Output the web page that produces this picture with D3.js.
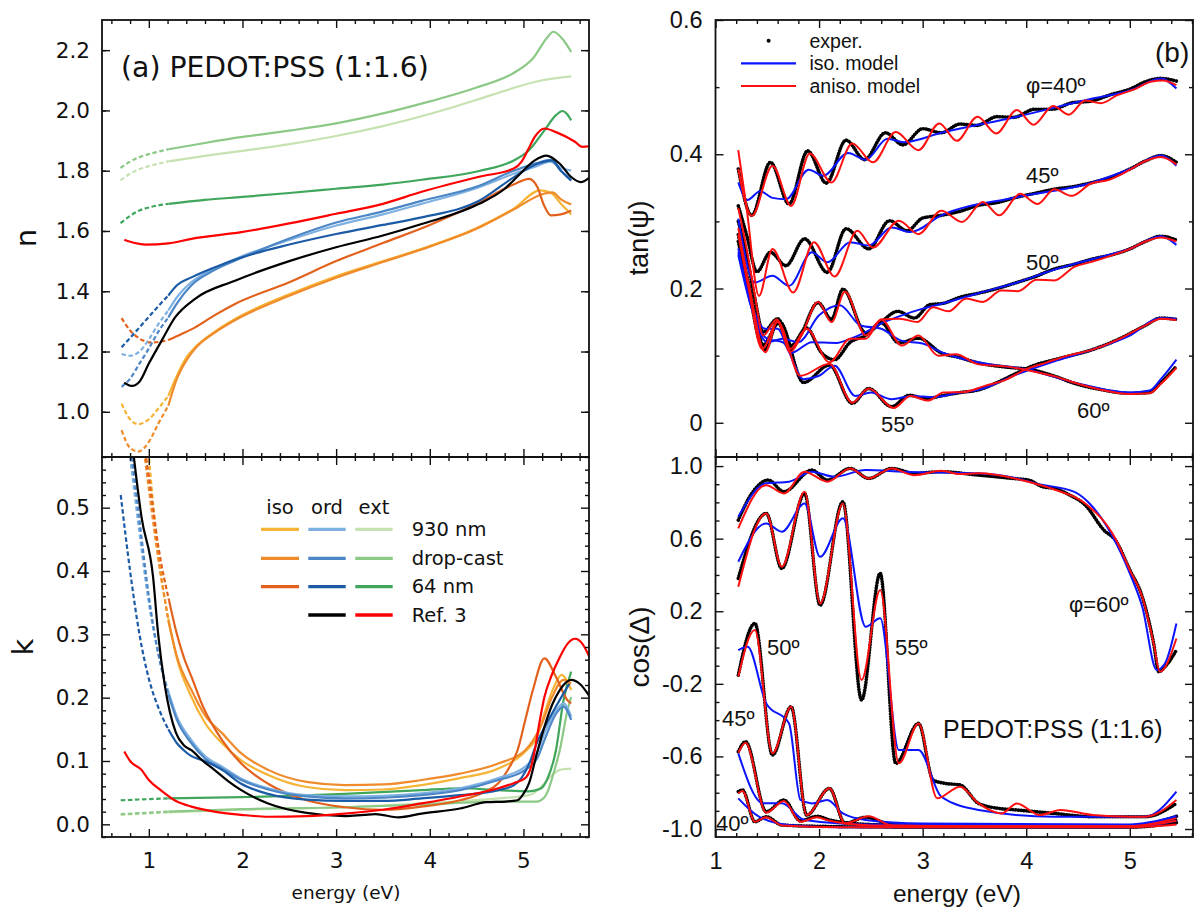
<!DOCTYPE html>
<html><head><meta charset="utf-8">
<script src="https://cdn.jsdelivr.net/npm/d3@7"></script>
<style>
body{margin:0;background:#fff;}
svg{display:block;}
</style></head><body>
<script>
// ---------- (a) refractive index n: [energy eV, n] ----------
// "Lo" arrays are the low-energy extrapolations drawn dashed
const nIso930Lo = [[0.709,1.027],[0.8,0.975],[0.887,0.959],[1.0,0.975],[1.1,1.01],[1.208,1.053]];
const nIso930 = [[1.208,1.053],[1.3,1.12],[1.4,1.18],[1.494,1.214],[1.7,1.265],[1.92,1.308],[2.5,1.39],[3.0,1.45],[3.5,1.50],[4.0,1.55],[4.5,1.61],[4.9,1.675],[5.18,1.735],[5.3,1.725],[5.4,1.69],[5.51,1.655]];
const nIsoDropLo = [[0.709,0.939],[0.8,0.88],[0.887,0.868],[1.0,0.90],[1.1,0.96],[1.208,1.02]];
const nIsoDrop = [[1.208,1.02],[1.3,1.11],[1.4,1.17],[1.494,1.21],[1.7,1.262],[1.92,1.304],[2.5,1.385],[3.0,1.445],[3.5,1.497],[4.0,1.548],[4.5,1.607],[4.9,1.672],[5.2,1.722],[5.31,1.728],[5.4,1.705],[5.51,1.688]];
const nIso64Lo = [[0.709,1.311],[0.8,1.27],[0.9,1.243],[1.03,1.23],[1.208,1.238]];
const nIso64 = [[1.208,1.238],[1.35,1.258],[1.494,1.28],[1.7,1.32],[1.92,1.358],[2.5,1.43],[3.0,1.50],[3.5,1.56],[4.0,1.62],[4.5,1.69],[4.9,1.755],[5.06,1.773],[5.15,1.745],[5.22,1.685],[5.29,1.652],[5.4,1.655],[5.51,1.668]];
const nOrd930Lo = [[0.709,1.192],[0.8,1.186],[0.9,1.20],[1.0,1.24],[1.1,1.29],[1.208,1.336]];
const nOrd930 = [[1.208,1.336],[1.3,1.38],[1.455,1.43],[1.7,1.475],[1.987,1.515],[2.5,1.57],[3.0,1.618],[3.5,1.655],[3.913,1.69],[4.527,1.745],[4.896,1.79],[5.142,1.815],[5.285,1.83],[5.4,1.81],[5.51,1.80]];
const nOrdDropLo = [[0.709,1.083],[0.8,1.11],[0.9,1.16],[1.0,1.21],[1.1,1.265],[1.208,1.313]];
const nOrdDrop = [[1.208,1.313],[1.3,1.36],[1.455,1.42],[1.7,1.47],[1.987,1.51],[2.5,1.575],[3.0,1.628],[3.5,1.665],[3.913,1.70],[4.527,1.75],[4.896,1.80],[5.142,1.825],[5.285,1.836],[5.4,1.80],[5.51,1.77]];
const nOrd64Lo = [[0.709,1.214],[0.8,1.245],[0.9,1.28],[1.0,1.315],[1.1,1.35],[1.208,1.386]];
const nOrd64 = [[1.208,1.386],[1.3,1.42],[1.455,1.446],[1.7,1.479],[1.987,1.512],[2.5,1.555],[3.0,1.59],[3.5,1.62],[3.913,1.645],[4.527,1.70],[4.896,1.778],[5.142,1.822],[5.306,1.834],[5.4,1.80],[5.51,1.767]];
const nExt930Lo = [[0.697,1.768],[0.8,1.79],[0.9,1.805],[1.0,1.815],[1.1,1.823],[1.209,1.831]];
const nExt930 = [[1.209,1.831],[1.6,1.849],[2.0,1.866],[2.5,1.888],[3.0,1.915],[3.5,1.948],[4.0,1.988],[4.5,2.035],[4.9,2.075],[5.2,2.1],[5.51,2.113]];
const nExtDropLo = [[0.697,1.809],[0.8,1.83],[0.9,1.845],[1.0,1.855],[1.1,1.863],[1.209,1.871]];
const nExtDrop = [[1.209,1.871],[1.6,1.892],[2.0,1.912],[2.5,1.933],[3.0,1.957],[3.5,1.99],[4.0,2.03],[4.5,2.076],[4.9,2.125],[5.1,2.172],[5.25,2.24],[5.318,2.261],[5.428,2.233],[5.51,2.194]];
const nExt64Lo = [[0.697,1.626],[0.8,1.65],[0.9,1.668],[1.0,1.678],[1.1,1.685],[1.209,1.69]];
const nExt64 = [[1.209,1.69],[1.6,1.703],[2.0,1.713],[2.5,1.726],[3.0,1.74],[3.5,1.754],[3.913,1.77],[4.527,1.799],[4.896,1.834],[5.06,1.868],[5.224,1.934],[5.35,1.985],[5.417,1.998],[5.46,1.99],[5.51,1.967]];
const nRefOrd = [[0.737,1.097],[0.816,1.086],[0.9,1.10],[1.0,1.16],[1.137,1.236],[1.28,1.313],[1.494,1.375],[1.92,1.435],[2.5,1.50],[3.0,1.546],[3.5,1.585],[3.913,1.623],[4.527,1.69],[4.8,1.74],[4.95,1.785],[5.121,1.834],[5.244,1.85],[5.388,1.823],[5.51,1.779],[5.613,1.762],[5.711,1.779]];
const nRefExt = [[0.738,1.571],[0.85,1.56],[0.963,1.555],[1.209,1.559],[1.455,1.574],[1.987,1.596],[2.5,1.625],[3.0,1.657],[3.5,1.69],[3.913,1.73],[4.527,1.78],[4.896,1.807],[4.98,1.83],[5.05,1.87],[5.121,1.912],[5.224,1.94],[5.347,1.928],[5.55,1.896],[5.63,1.879],[5.711,1.881]];

// ---------- (a) extinction coefficient k: [energy eV, k] ----------
const kIso930Lo = [[0.99,0.60],[1.05,0.50],[1.1,0.43],[1.15,0.375],[1.208,0.325]];
const kIso930 = [[1.208,0.325],[1.3,0.262],[1.455,0.201],[1.6,0.160],[1.782,0.128],[1.987,0.101],[2.274,0.078],[2.684,0.059],[3.093,0.054],[3.503,0.055],[3.913,0.062],[4.322,0.073],[4.732,0.088],[5.019,0.115],[5.15,0.14],[5.224,0.175],[5.32,0.215],[5.408,0.236],[5.46,0.228],[5.51,0.212]];
const kIsoDropLo = [[0.94,0.60],[1.0,0.53],[1.1,0.42],[1.208,0.322]];
const kIsoDrop = [[1.208,0.322],[1.3,0.265],[1.455,0.212],[1.6,0.172],[1.782,0.144],[1.987,0.112],[2.274,0.086],[2.684,0.067],[3.093,0.062],[3.503,0.063],[3.913,0.07],[4.322,0.080],[4.732,0.096],[5.019,0.117],[5.183,0.154],[5.306,0.201],[5.428,0.228],[5.51,0.222]];
const kIso64Lo = [[0.95,0.60],[1.0,0.55],[1.1,0.44],[1.215,0.354]];
const kIso64 = [[1.215,0.354],[1.3,0.30],[1.373,0.264],[1.458,0.232],[1.578,0.186],[1.782,0.133],[1.987,0.096],[2.274,0.064],[2.684,0.038],[3.093,0.027],[3.503,0.023],[3.913,0.028],[4.322,0.038],[4.6,0.052],[4.732,0.065],[4.85,0.09],[4.937,0.117],[5.02,0.165],[5.101,0.212],[5.224,0.262],[5.347,0.233],[5.47,0.196],[5.51,0.191]];
const kOrd930Lo = [[0.80,0.58],[0.9,0.46],[1.0,0.35],[1.1,0.27],[1.208,0.21]];
const kOrd930 = [[1.208,0.21],[1.3,0.17],[1.455,0.133],[1.6,0.108],[1.782,0.091],[1.987,0.072],[2.274,0.057],[2.684,0.046],[3.093,0.044],[3.503,0.045],[3.913,0.049],[4.322,0.057],[4.732,0.073],[5.019,0.091],[5.15,0.115],[5.224,0.144],[5.35,0.18],[5.428,0.191],[5.51,0.170]];
const kOrdDropLo = [[0.82,0.58],[0.9,0.48],[1.0,0.36],[1.1,0.27],[1.208,0.205]];
const kOrdDrop = [[1.208,0.205],[1.3,0.165],[1.455,0.128],[1.6,0.104],[1.782,0.088],[1.987,0.07],[2.274,0.055],[2.684,0.044],[3.093,0.041],[3.503,0.042],[3.913,0.046],[4.322,0.054],[4.732,0.07],[5.019,0.086],[5.15,0.105],[5.224,0.133],[5.35,0.175],[5.428,0.186],[5.51,0.165]];
const kOrd64Lo = [[0.70,0.52],[0.8,0.40],[0.9,0.30],[1.0,0.23],[1.1,0.185],[1.208,0.15]];
const kOrd64 = [[1.208,0.15],[1.3,0.128],[1.373,0.117],[1.45,0.108],[1.578,0.101],[1.782,0.086],[1.987,0.064],[2.274,0.048],[2.684,0.039],[3.093,0.037],[3.503,0.037],[3.913,0.041],[4.322,0.046],[4.732,0.054],[4.9,0.062],[4.978,0.073],[5.06,0.095],[5.142,0.128],[5.25,0.16],[5.347,0.186],[5.49,0.222]];
const kExt930Lo = [[0.7,0.015],[1.208,0.019]];
const kExt930 = [[1.208,0.019],[1.987,0.023],[3.093,0.027],[3.913,0.033],[4.732,0.041],[5.06,0.046],[5.16,0.055],[5.224,0.065],[5.3,0.077],[5.388,0.086],[5.51,0.088]];
const kExtDropLo = [[0.7,0.016],[1.208,0.020]];
const kExtDrop = [[1.208,0.020],[1.987,0.024],[3.093,0.027],[3.913,0.031],[4.732,0.036],[5.142,0.036],[5.22,0.042],[5.265,0.054],[5.33,0.085],[5.388,0.117],[5.47,0.180],[5.51,0.201]];
const kExt64Lo = [[0.7,0.038],[1.208,0.041]];
const kExt64 = [[1.208,0.041],[1.987,0.043],[3.093,0.048],[3.913,0.054],[4.322,0.057],[4.732,0.054],[5.06,0.052],[5.18,0.056],[5.25,0.07],[5.347,0.117],[5.428,0.196],[5.51,0.241]];
const kRefOrd = [[0.84,0.58],[0.922,0.485],[1.045,0.391],[1.1,0.30],[1.168,0.222],[1.291,0.144],[1.373,0.125],[1.455,0.117],[1.578,0.10],[1.7,0.086],[1.85,0.068],[1.987,0.054],[2.274,0.033],[2.684,0.018],[3.093,0.013],[3.3,0.015],[3.421,0.016],[3.667,0.011],[3.913,0.017],[4.322,0.025],[4.609,0.035],[4.814,0.036],[4.937,0.038],[5.0,0.048],[5.06,0.065],[5.14,0.11],[5.224,0.154],[5.31,0.19],[5.388,0.212],[5.51,0.228],[5.6,0.222],[5.711,0.201]];
const kRefExt = [[0.738,0.115],[0.8,0.10],[0.922,0.086],[1.0,0.07],[1.127,0.054],[1.3,0.036],[1.455,0.028],[1.7,0.02],[1.987,0.015],[2.274,0.012],[2.684,0.013],[3.093,0.017],[3.503,0.023],[3.913,0.033],[4.322,0.044],[4.732,0.057],[4.896,0.065],[5.019,0.073],[5.08,0.09],[5.121,0.117],[5.17,0.16],[5.224,0.201],[5.3,0.235],[5.388,0.264],[5.47,0.285],[5.55,0.293],[5.63,0.285],[5.711,0.262]];

// ---------- (b) tan(psi): [energy eV, tan psi] per angle of incidence ----------
const tanExp40 = [[1.22,0.378],[1.35,0.309],[1.53,0.388],[1.71,0.326],[1.89,0.405],[2.07,0.357],[2.26,0.421],[2.44,0.392],[2.64,0.432],[2.81,0.414],[3.0,0.438],[3.18,0.432],[3.36,0.445],[3.52,0.443],[3.72,0.456],[3.88,0.455],[4.08,0.467],[4.25,0.467],[4.45,0.477],[4.62,0.479],[4.82,0.489],[5.0,0.497],[5.15,0.508],[5.3,0.513],[5.45,0.509]];
const tanAniso40 = [[1.22,0.378],[1.35,0.308],[1.55,0.383],[1.73,0.323],[1.91,0.401],[2.12,0.358],[2.32,0.416],[2.52,0.388],[2.74,0.433],[2.96,0.406],[3.16,0.446],[3.33,0.420],[3.53,0.456],[3.71,0.431],[3.91,0.466],[4.07,0.444],[4.26,0.472],[4.41,0.459],[4.57,0.480],[4.72,0.476],[4.88,0.488],[5.05,0.497],[5.2,0.508],[5.32,0.51],[5.45,0.503]];
const tanIso40 = [[1.22,0.358],[1.31,0.332],[1.43,0.345],[1.55,0.335],[1.68,0.333],[1.9,0.377],[2.04,0.368],[2.28,0.402],[2.45,0.392],[2.66,0.423],[2.82,0.418],[3.18,0.432],[3.91,0.456],[4.64,0.483],[5.0,0.495],[5.3,0.513],[5.45,0.498]];
const tanExp45 = [[1.22,0.323],[1.3,0.28],[1.4,0.225],[1.53,0.254],[1.68,0.234],[1.86,0.274],[2.08,0.224],[2.26,0.289],[2.48,0.259],[2.68,0.301],[2.85,0.286],[3.0,0.305],[3.18,0.309],[3.36,0.315],[3.54,0.324],[3.72,0.328],[3.91,0.336],[4.09,0.342],[4.27,0.348],[4.46,0.352],[4.64,0.358],[4.82,0.366],[5.0,0.378],[5.15,0.39],[5.3,0.398],[5.45,0.388]];
const tanAniso45 = [[1.22,0.406],[1.3,0.32],[1.42,0.189],[1.55,0.259],[1.75,0.194],[1.95,0.269],[2.15,0.218],[2.37,0.286],[2.52,0.261],[2.77,0.301],[2.96,0.281],[3.18,0.316],[3.38,0.299],[3.58,0.329],[3.74,0.309],[3.94,0.341],[4.11,0.326],[4.27,0.348],[4.44,0.338],[4.62,0.356],[4.8,0.362],[5.0,0.377],[5.15,0.39],[5.3,0.396],[5.45,0.385]];
const tanIso45 = [[1.22,0.304],[1.38,0.209],[1.55,0.219],[1.71,0.204],[1.93,0.254],[2.08,0.239],[2.3,0.269],[2.48,0.264],[2.7,0.291],[2.88,0.284],[3.18,0.309],[3.91,0.336],[4.64,0.358],[5.0,0.378],[5.3,0.398],[5.45,0.383]];
const tanExp50 = [[1.22,0.30],[1.3,0.25],[1.38,0.185],[1.46,0.135],[1.6,0.155],[1.73,0.115],[1.88,0.141],[2.02,0.105],[2.15,0.094],[2.3,0.12],[2.45,0.13],[2.6,0.15],[2.76,0.166],[2.92,0.156],[3.07,0.176],[3.2,0.178],[3.36,0.187],[3.54,0.193],[3.72,0.20],[3.91,0.209],[4.09,0.218],[4.27,0.229],[4.46,0.236],[4.64,0.244],[4.82,0.25],[5.0,0.259],[5.15,0.27],[5.3,0.278],[5.45,0.272]];
const tanAniso50 = [[1.22,0.32],[1.3,0.26],[1.38,0.19],[1.46,0.13],[1.59,0.154],[1.72,0.11],[1.88,0.14],[2.1,0.09],[2.3,0.125],[2.45,0.125],[2.6,0.154],[2.78,0.155],[2.95,0.15],[3.1,0.172],[3.25,0.166],[3.42,0.185],[3.58,0.18],[3.76,0.197],[3.92,0.196],[4.1,0.213],[4.27,0.212],[4.46,0.232],[4.64,0.24],[4.82,0.249],[5.0,0.259],[5.15,0.27],[5.3,0.276],[5.45,0.27]];
const tanIso50 = [[1.22,0.254],[1.35,0.175],[1.48,0.14],[1.6,0.14],[1.73,0.104],[1.93,0.12],[2.17,0.119],[2.3,0.125],[2.45,0.135],[2.6,0.148],[2.8,0.16],[3.0,0.17],[3.2,0.178],[3.54,0.193],[3.91,0.209],[4.27,0.228],[4.64,0.244],[5.0,0.259],[5.3,0.278],[5.45,0.265]];
const tanExp55 = [[1.22,0.27],[1.32,0.2],[1.45,0.115],[1.62,0.15],[1.85,0.06],[2.1,0.086],[2.32,0.029],[2.48,0.051],[2.7,0.024],[2.87,0.041],[3.03,0.036],[3.18,0.040],[3.36,0.045],[3.54,0.049],[3.72,0.06],[3.91,0.074],[4.05,0.084],[4.3,0.095],[4.64,0.109],[4.9,0.125],[5.15,0.145],[5.3,0.156],[5.45,0.154]];
const tanAniso55 = [[1.22,0.28],[1.32,0.2],[1.45,0.11],[1.6,0.15],[1.82,0.07],[2.1,0.088],[2.32,0.03],[2.48,0.051],[2.72,0.022],[2.88,0.04],[3.05,0.033],[3.2,0.045],[3.4,0.046],[3.6,0.055],[3.8,0.064],[4.0,0.08],[4.2,0.09],[4.4,0.1],[4.64,0.109],[4.9,0.125],[5.15,0.145],[5.3,0.155],[5.45,0.153]];
const tanIso55 = [[1.22,0.25],[1.35,0.17],[1.5,0.125],[1.65,0.12],[1.85,0.065],[2.0,0.07],[2.15,0.085],[2.35,0.04],[2.5,0.045],[2.7,0.035],[2.9,0.04],[3.1,0.038],[3.36,0.045],[3.54,0.049],[3.91,0.072],[4.3,0.093],[4.64,0.109],[5.0,0.13],[5.3,0.156],[5.45,0.155]];
const tanExp60 = [[1.22,0.28],[1.33,0.20],[1.48,0.109],[1.6,0.15],[1.72,0.11],[1.82,0.13],[1.99,0.179],[2.12,0.154],[2.23,0.199],[2.45,0.134],[2.6,0.149],[2.77,0.119],[2.96,0.126],[3.18,0.104],[3.36,0.097],[3.54,0.089],[3.8,0.083],[4.05,0.079],[4.3,0.068],[4.46,0.059],[4.7,0.05],[5.0,0.044],[5.19,0.045],[5.3,0.06],[5.45,0.084]];
const tanAniso60 = [[1.22,0.29],[1.33,0.20],[1.48,0.105],[1.6,0.152],[1.72,0.105],[1.83,0.13],[1.99,0.18],[2.12,0.15],[2.25,0.195],[2.45,0.13],[2.6,0.154],[2.8,0.115],[2.96,0.13],[3.15,0.10],[3.32,0.102],[3.54,0.087],[3.8,0.084],[4.05,0.077],[4.3,0.068],[4.46,0.06],[4.7,0.05],[5.0,0.043],[5.19,0.044],[5.3,0.058],[5.45,0.082]];
const tanIso60 = [[1.22,0.26],[1.35,0.17],[1.5,0.12],[1.65,0.125],[1.8,0.12],[2.0,0.16],[2.2,0.175],[2.4,0.145],[2.6,0.14],[2.8,0.122],[3.0,0.118],[3.2,0.104],[3.54,0.09],[4.05,0.078],[4.46,0.06],[5.0,0.045],[5.19,0.048],[5.3,0.065],[5.45,0.094]];

// ---------- (b) cos(Delta) ----------
const cosExp60 = [[1.22,0.702],[1.35,0.849],[1.51,0.923],[1.66,0.859],[1.93,0.978],[2.08,0.923],[2.3,0.987],[2.48,0.932],[2.7,0.987],[2.92,0.96],[3.18,0.969],[3.54,0.95],[3.87,0.932],[4.02,0.923],[4.16,0.886],[4.27,0.877],[4.42,0.84],[4.57,0.785],[4.75,0.647],[4.86,0.592],[5.0,0.427],[5.12,0.28],[5.23,0.023],[5.28,-0.133],[5.34,-0.106],[5.45,-0.014]];
const cosAniso60 = [[1.22,0.657],[1.49,0.895],[1.66,0.849],[1.86,0.969],[2.08,0.914],[2.3,0.987],[2.48,0.932],[2.7,0.987],[2.92,0.95],[3.18,0.974],[3.36,0.956],[3.54,0.96],[4.02,0.914],[4.27,0.871],[4.57,0.794],[4.86,0.601],[5.0,0.427],[5.12,0.28],[5.23,0.023],[5.29,-0.133],[5.45,0.05]];
const cosIso60 = [[1.22,0.721],[1.49,0.905],[1.71,0.914],[1.93,0.969],[2.15,0.941],[2.45,0.978],[2.81,0.969],[3.54,0.96],[3.91,0.932],[4.09,0.904],[4.46,0.859],[4.64,0.776],[5.0,0.409],[5.12,0.225],[5.26,-0.124],[5.34,-0.087],[5.45,0.133]];
const cosExp55 = [[1.22,0.381],[1.49,0.739],[1.64,0.436],[1.86,0.849],[2.01,0.234],[2.23,0.803],[2.41,-0.289],[2.59,0.409],[2.74,-0.638],[2.96,-0.418],[3.1,-0.73],[3.21,-0.748],[3.36,-0.757],[3.54,-0.859],[3.73,-0.886],[3.91,-0.895],[4.27,-0.914],[4.64,-0.932],[5.15,-0.932],[5.45,-0.859]];
const cosAniso55 = [[1.22,0.335],[1.49,0.739],[1.64,0.445],[1.86,0.859],[2.01,0.243],[2.23,0.794],[2.41,-0.179],[2.59,0.317],[2.77,-0.638],[2.96,-0.418],[3.14,-0.831],[3.36,-0.767],[3.54,-0.859],[3.76,-0.914],[3.91,-0.859],[4.13,-0.923],[4.33,-0.895],[4.64,-0.923],[5.0,-0.932],[5.15,-0.932],[5.45,-0.84]];
const cosIso55 = [[1.22,0.473],[1.49,0.684],[1.64,0.638],[1.86,0.794],[2.01,0.50],[2.23,0.712],[2.45,0.115],[2.59,0.161],[2.77,-0.565],[2.96,-0.565],[3.18,-0.822],[3.54,-0.895],[4.27,-0.932],[5.15,-0.932],[5.45,-0.794]];
const cosExp50 = [[1.22,-0.152],[1.38,0.133],[1.55,-0.592],[1.73,-0.326],[1.88,-0.923],[2.1,-0.776],[2.25,-0.969],[2.45,-0.935],[2.7,-0.975],[3.0,-0.98],[4.0,-0.985],[5.0,-0.985],[5.45,-0.93]];
const cosAniso50 = [[1.22,-0.16],[1.38,0.096],[1.55,-0.583],[1.73,-0.326],[1.88,-0.923],[2.1,-0.776],[2.25,-0.969],[2.48,-0.93],[2.7,-0.98],[3.5,-0.985],[5.0,-0.985],[5.45,-0.94]];
const cosIso50 = [[1.22,-0.014],[1.31,0.004],[1.49,-0.308],[1.71,-0.418],[1.82,-0.84],[1.93,-0.859],[2.08,-0.84],[2.23,-0.914],[2.45,-0.95],[3.0,-0.97],[5.0,-0.975],[5.45,-0.93]];
const cosExp45 = [[1.22,-0.574],[1.29,-0.519],[1.49,-0.905],[1.66,-0.84],[1.82,-0.955],[1.98,-0.93],[2.1,-0.95],[2.5,-0.975],[3.5,-0.985],[5.0,-0.985],[5.45,-0.95]];
const cosAniso45 = [[1.22,-0.58],[1.29,-0.525],[1.49,-0.91],[1.66,-0.845],[1.82,-0.96],[1.98,-0.935],[2.1,-0.955],[2.5,-0.98],[3.5,-0.985],[5.0,-0.985],[5.45,-0.955]];
const cosIso45 = [[1.22,-0.583],[1.46,-0.858],[1.64,-0.858],[1.86,-0.95],[2.5,-0.975],[5.0,-0.98],[5.45,-0.93]];
const cosExp40 = [[1.22,-0.794],[1.26,-0.785],[1.38,-0.96],[1.49,-0.932],[1.64,-0.978],[2.0,-0.985],[3.0,-0.99],[5.0,-0.99],[5.45,-0.965]];
const cosAniso40 = [[1.22,-0.804],[1.26,-0.79],[1.38,-0.96],[1.49,-0.935],[1.64,-0.98],[2.2,-0.99],[5.0,-0.99],[5.45,-0.975]];
const cosIso40 = [[1.22,-0.831],[1.42,-0.932],[1.71,-0.978],[2.2,-0.99],[5.0,-0.99],[5.45,-0.955]];

// ---------- tick values and labels ----------
const xMajor = [1, 2, 3, 4, 5];
const nMajor = [1.0, 1.2, 1.4, 1.6, 1.8, 2.0, 2.2];
const kMajor = [0.0, 0.1, 0.2, 0.3, 0.4, 0.5];
const tanMajor = [0, 0.2, 0.4, 0.6];
const cosMajor = [-1.0, -0.6, -0.2, 0.2, 0.6, 1.0];
const legendRows = ["930 nm", "drop-cast", "64 nm", "Ref. 3"];
const legendCols = ["iso", "ord", "ext"];

// ---------- colours ----------
const C = {
  iso930: "#f6b436", isoDrop: "#f08b2b", iso64: "#e2621d",
  ord930: "#7eb1e1", ordDrop: "#4c86c6", ord64: "#1b5ba6",
  ext930: "#c6e2b1", extDrop: "#8cc886", ext64: "#3fa65b",
  refOrd: "#000000", refExt: "#ff0000",
  iso: "#0a14ff", aniso: "#ff1010", exp: "#000000"
};

// ---------- layout ----------
const W = 1194, H = 908;
const svg = d3.select("body").append("svg").attr("width", W).attr("height", H)
  .attr("viewBox", `0 0 ${W} ${H}`);

const LX = [102, 589], RX = [715.5, 1193];
const TY = [20, 457], BY = [457, 837];

const xL = d3.scaleLinear().domain([0.5, 5.7]).range(LX);
const xR = d3.scaleLinear().domain([1, 5.61]).range(RX);
const yN = d3.scaleLinear().domain([0.85, 2.3]).range([TY[1], TY[0]]);
const yK = d3.scaleLinear().domain([-0.02, 0.58]).range([BY[1], BY[0]]);
const yT = d3.scaleLinear().domain([-0.051, 0.6]).range([TY[1], TY[0]]);
const yC = d3.scaleLinear().domain([-1.044, 1.05]).range([BY[1], BY[0]]);

const FONT_L = "'DejaVu Sans', sans-serif";
const FONT_R = "'Liberation Sans', Arial, sans-serif";

const defs = svg.append("defs");
function panel(id, xs, ys) {
  defs.append("clipPath").attr("id", id).append("rect")
    .attr("x", xs[0]).attr("y", ys[0]).attr("width", xs[1] - xs[0]).attr("height", ys[1] - ys[0]);
  return svg.append("g").attr("clip-path", `url(#${id})`);
}

const range = (a, b, s) => d3.range(Math.round(a / s), Math.round(b / s) + 1).map(i => +(i * s).toFixed(4));
const notIn = (arr) => v => !arr.some(m => Math.abs(m - v) < 1e-6);

function axes(x, y, xs, ys, o) {
  const g = svg.append("g");
  const style = sel => {
    sel.select(".domain").remove();
    sel.selectAll("line").attr("stroke", "#111").attr("stroke-width", 1.4);
    sel.selectAll("text").attr("fill", "#111").style("font-family", o.font).style("font-size", o.fs + "px");
  };
  // bottom
  g.append("g").attr("transform", `translate(0,${ys[1]})`)
    .call(d3.axisBottom(x).tickValues(xMajor).tickSize(-8).tickPadding(o.xPad)
      .tickFormat(o.xLabels ? d3.format("d") : "")).call(style);
  g.append("g").attr("transform", `translate(0,${ys[1]})`)
    .call(d3.axisBottom(x).tickValues(o.xMinor).tickSize(-4).tickFormat("")).call(style);
  // top
  g.append("g").attr("transform", `translate(0,${ys[0]})`)
    .call(d3.axisTop(x).tickValues(xMajor).tickSize(-8).tickFormat("")).call(style);
  g.append("g").attr("transform", `translate(0,${ys[0]})`)
    .call(d3.axisTop(x).tickValues(o.xMinor).tickSize(-4).tickFormat("")).call(style);
  // left
  g.append("g").attr("transform", `translate(${xs[0]},0)`)
    .call(d3.axisLeft(y).tickValues(o.yMajor).tickSize(-8).tickPadding(o.yPad).tickFormat(o.yFmt)).call(style);
  g.append("g").attr("transform", `translate(${xs[0]},0)`)
    .call(d3.axisLeft(y).tickValues(o.yMinor).tickSize(-4).tickFormat("")).call(style);
  // right
  g.append("g").attr("transform", `translate(${xs[1]},0)`)
    .call(d3.axisRight(y).tickValues(o.yMajor).tickSize(-8).tickFormat("")).call(style);
  g.append("g").attr("transform", `translate(${xs[1]},0)`)
    .call(d3.axisRight(y).tickValues(o.yMinor).tickSize(-4).tickFormat("")).call(style);
  // frame
  g.append("rect").attr("x", xs[0]).attr("y", ys[0]).attr("width", xs[1] - xs[0]).attr("height", ys[1] - ys[0])
    .attr("fill", "none").attr("stroke", "#111").attr("stroke-width", 1.8);
}

function curve(g, data, x, y, color, opt = {}) {
  const line = d3.line().x(d => x(d[0])).y(d => y(d[1])).curve(d3.curveMonotoneX);
  const p = g.append("path").datum(data).attr("d", line).attr("fill", "none")
    .attr("stroke", color).attr("stroke-width", opt.w || 2.2).attr("stroke-linejoin", "round");
  if (opt.dash) p.attr("stroke-dasharray", opt.dash);
  if (opt.cap) p.attr("stroke-linecap", opt.cap);
  return p;
}

const DASH = "4.5 2.6";

// ---------- panel (a) n ----------
const gN = panel("clipN", LX, TY);
[[nIso930Lo, nIso930, C.iso930], [nIsoDropLo, nIsoDrop, C.isoDrop], [nIso64Lo, nIso64, C.iso64],
 [nOrd930Lo, nOrd930, C.ord930], [nOrdDropLo, nOrdDrop, C.ordDrop], [nOrd64Lo, nOrd64, C.ord64],
 [nExt930Lo, nExt930, C.ext930], [nExtDropLo, nExtDrop, C.extDrop], [nExt64Lo, nExt64, C.ext64]]
  .forEach(([lo, hi, c]) => { curve(gN, lo, xL, yN, c, {dash: DASH}); curve(gN, hi, xL, yN, c); });
curve(gN, nRefOrd, xL, yN, C.refOrd);
curve(gN, nRefExt, xL, yN, C.refExt);

// ---------- panel (a) k ----------
const gK = panel("clipK", LX, BY);
[[kExt930Lo, kExt930, C.ext930], [kExtDropLo, kExtDrop, C.extDrop], [kExt64Lo, kExt64, C.ext64],
 [kIso930Lo, kIso930, C.iso930], [kIsoDropLo, kIsoDrop, C.isoDrop], [kIso64Lo, kIso64, C.iso64],
 [kOrd930Lo, kOrd930, C.ord930], [kOrdDropLo, kOrdDrop, C.ordDrop], [kOrd64Lo, kOrd64, C.ord64]]
  .forEach(([lo, hi, c]) => { curve(gK, lo, xL, yK, c, {dash: DASH}); curve(gK, hi, xL, yK, c); });
curve(gK, kRefOrd, xL, yK, C.refOrd);
curve(gK, kRefExt, xL, yK, C.refExt);

// ---------- panel (b) tan(psi) and cos(Delta) ----------
const EXP = {w: 3.6, dash: "0.1 2.6", cap: "round"};
const gT = panel("clipT", RX, TY);
[tanExp40, tanExp45, tanExp50, tanExp55, tanExp60].forEach(d => curve(gT, d, xR, yT, C.exp, EXP));
[tanIso40, tanIso45, tanIso50, tanIso55, tanIso60].forEach(d => curve(gT, d, xR, yT, C.iso, {w: 2}));
[tanAniso40, tanAniso45, tanAniso50, tanAniso55, tanAniso60].forEach(d => curve(gT, d, xR, yT, C.aniso, {w: 2}));

const gC = panel("clipC", RX, BY);
[cosExp40, cosExp45, cosExp50, cosExp55, cosExp60].forEach(d => curve(gC, d, xR, yC, C.exp, EXP));
[cosIso40, cosIso45, cosIso50, cosIso55, cosIso60].forEach(d => curve(gC, d, xR, yC, C.iso, {w: 2}));
[cosAniso40, cosAniso45, cosAniso50, cosAniso55, cosAniso60].forEach(d => curve(gC, d, xR, yC, C.aniso, {w: 2}));

// ---------- axes ----------
const xMinorL = range(0.6, 5.6, 0.2).filter(notIn(xMajor));
const xMinorR = range(1.2, 5.6, 0.2).filter(notIn(xMajor));
axes(xL, yN, LX, TY, {font: FONT_L, fs: 21.5, xLabels: false, xPad: 0, xMinor: xMinorL,
  yMajor: nMajor, yMinor: range(0.9, 2.3, 0.2), yPad: 12, yFmt: d3.format(".1f")});
axes(xL, yK, LX, BY, {font: FONT_L, fs: 21.5, xLabels: true, xPad: 16, xMinor: xMinorL,
  yMajor: kMajor, yMinor: range(-0.02, 0.58, 0.02).filter(notIn(kMajor)), yPad: 12, yFmt: d3.format(".1f")});
axes(xR, yT, RX, TY, {font: FONT_R, fs: 23.5, xLabels: false, xPad: 0, xMinor: xMinorR,
  yMajor: tanMajor, yMinor: [0.1, 0.3, 0.5], yPad: 13, yFmt: v => v === 0 ? "0" : v.toFixed(1)});
axes(xR, yC, RX, BY, {font: FONT_R, fs: 23.5, xLabels: true, xPad: 15, xMinor: xMinorR,
  yMajor: cosMajor, yMinor: range(-1.0, 1.0, 0.1).filter(notIn(cosMajor)), yPad: 13, yFmt: v => v.toFixed(1)});

// ---------- text ----------
function text(x, y, s, font, fs, o = {}) {
  const t = svg.append("text").attr("x", x).attr("y", y).text(s)
    .style("font-family", font).style("font-size", fs + "px").attr("fill", "#111");
  if (o.anchor) t.attr("text-anchor", o.anchor);
  if (o.mid) t.attr("dominant-baseline", "central");
  if (o.rot) t.attr("transform", `rotate(${o.rot},${x},${y})`);
  return t;
}
text(26, 238, "n", FONT_L, 29, {anchor: "middle", mid: true, rot: -90});
text(23, 647, "k", FONT_L, 29, {anchor: "middle", mid: true, rot: -90});
text(346, 899, "energy (eV)", FONT_L, 18.5, {anchor: "middle"});
text(121, 77, "(a) PEDOT:PSS (1:1.6)", FONT_L, 28.3);

text(639, 238, "tan(\u03C8)", FONT_R, 27, {anchor: "middle", mid: true, rot: -90});
text(639, 647, "cos(\u0394)", FONT_R, 28, {anchor: "middle", mid: true, rot: -90});
text(957, 902, "energy (eV)", FONT_R, 24.5, {anchor: "middle"});
text(1155, 62, "(b)", FONT_R, 28);

// angle labels
const deg = "\u00BA";
text(1026, 93, "\u03C6=40" + deg, FONT_R, 22);
text(1026, 183, "45" + deg, FONT_R, 22);
text(1026, 270, "50" + deg, FONT_R, 22);
text(881, 432, "55" + deg, FONT_R, 22);
text(1077, 418, "60" + deg, FONT_R, 22);
text(767, 655, "50" + deg, FONT_R, 22);
text(895, 655, "55" + deg, FONT_R, 22);
text(722, 726, "45" + deg, FONT_R, 22);
text(716, 831, "40" + deg, FONT_R, 22);
text(1069, 612, "\u03C6=60" + deg, FONT_R, 22);
text(943, 738, "PEDOT:PSS (1:1.6)", FONT_R, 25);

// legend (b)
svg.append("circle").attr("cx", 768.6).attr("cy", 40.7).attr("r", 2).attr("fill", C.exp);
svg.append("line").attr("x1", 741).attr("x2", 796).attr("y1", 63.3).attr("y2", 63.3).attr("stroke", C.iso).attr("stroke-width", 2.2);
svg.append("line").attr("x1", 741).attr("x2", 796).attr("y1", 86).attr("y2", 86).attr("stroke", C.aniso).attr("stroke-width", 2.2);
text(809.5, 40.7, "exper.", FONT_R, 19.5, {mid: true});
text(809.5, 63.3, "iso. model", FONT_R, 19.5, {mid: true});
text(809.5, 86, "aniso. model", FONT_R, 19.5, {mid: true});

// legend (a) k-panel: columns iso / ord / ext, rows per sample
const colX = [[261, 299], [308.3, 345.7], [355.3, 392.7]];
const rowY = [529.3, 558.3, 586.7, 615];
const legendColors = [
  [C.iso930, C.ord930, C.ext930],
  [C.isoDrop, C.ordDrop, C.extDrop],
  [C.iso64, C.ord64, C.ext64],
  [null, C.refOrd, C.refExt]
];
legendCols.forEach((s, i) => text((colX[i][0] + colX[i][1]) / 2, 507, s, FONT_L, 19.5, {anchor: "middle", mid: true}));
legendRows.forEach((s, r) => {
  legendColors[r].forEach((c, i) => {
    if (!c) return;
    svg.append("line").attr("x1", colX[i][0]).attr("x2", colX[i][1]).attr("y1", rowY[r]).attr("y2", rowY[r])
      .attr("stroke", c).attr("stroke-width", 3.3);
  });
  text(411.7, rowY[r], s, FONT_L, 19.5, {mid: true});
});
</script></body></html>
